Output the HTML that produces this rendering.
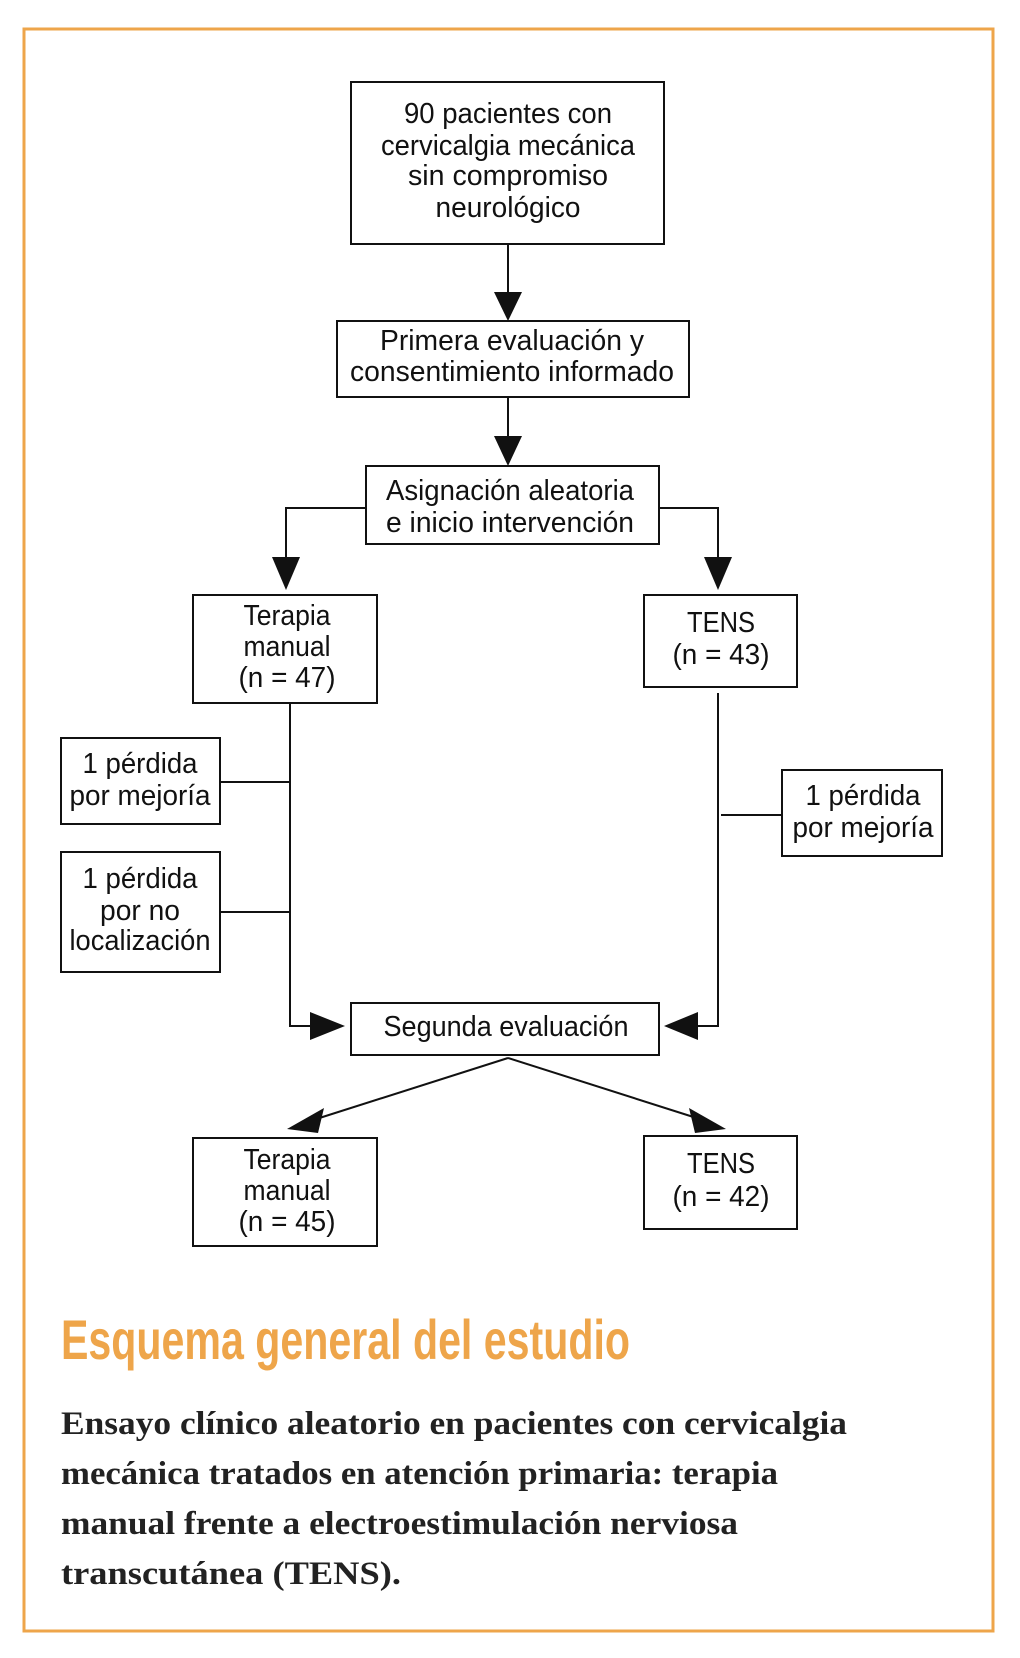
<!DOCTYPE html>
<html><head><meta charset="utf-8"><style>
html,body{margin:0;padding:0;background:#fff;}
svg{display:block;}
.t{font-family:"Liberation Sans",sans-serif;font-size:29px;fill:#111;text-anchor:middle;dominant-baseline:central;}
.b{fill:none;stroke:#111;stroke-width:2;}
.s{font-family:"Liberation Serif",serif;font-size:33px;font-weight:bold;fill:#222;}
</style></head><body>
<svg width="1020" height="1658" viewBox="0 0 1020 1658" xmlns="http://www.w3.org/2000/svg">
<rect x="24" y="29" width="969" height="1602" fill="none" stroke="#eea54a" stroke-width="3"/>
<g class="b">
<rect x="351" y="82" width="313" height="162"/>
<rect x="337" y="321" width="352" height="76"/>
<rect x="366" y="466" width="293" height="78"/>
<rect x="193" y="595" width="184" height="108"/>
<rect x="644" y="595" width="153" height="92"/>
<rect x="61" y="738" width="159" height="86"/>
<rect x="61" y="852" width="159" height="120"/>
<rect x="782" y="770" width="160" height="86"/>
<rect x="351" y="1003" width="308" height="52"/>
<rect x="193" y="1138" width="184" height="108"/>
<rect x="644" y="1136" width="153" height="93"/>
<path d="M508 244V296M508 397V440M366 508H286V560M659 508H718V560M290 703V1026H316M220 782H290M220 912H290M718 693V1026H692M721 815H782M508 1058L310 1121M508 1058L706 1121"/>
</g>
<g fill="#111">
<polygon points="494,292 522,292 508,321"/>
<polygon points="494,436 522,436 508,466"/>
<polygon points="272,557 300,557 286,590"/>
<polygon points="704,557 732,557 718,590"/>
<polygon points="310,1012 310,1040 345,1026"/>
<polygon points="698,1012 698,1040 664,1026"/>
<polygon points="287,1129 324,1108 318,1133"/>
<polygon points="726,1129 689,1108 695,1133"/>
</g>
<g class="t">
<text x="508" y="114" textLength="208" lengthAdjust="spacingAndGlyphs">90 pacientes con</text>
<text x="508" y="146" textLength="254" lengthAdjust="spacingAndGlyphs">cervicalgia mecánica</text>
<text x="508" y="176" textLength="200" lengthAdjust="spacingAndGlyphs">sin compromiso</text>
<text x="508" y="208" textLength="145" lengthAdjust="spacingAndGlyphs">neurológico</text>
<text x="512" y="341" textLength="264" lengthAdjust="spacingAndGlyphs">Primera evaluación  y</text>
<text x="512" y="372" textLength="324" lengthAdjust="spacingAndGlyphs">consentimiento informado</text>
<text x="510" y="491" textLength="248" lengthAdjust="spacingAndGlyphs">Asignación aleatoria</text>
<text x="510" y="523" textLength="248" lengthAdjust="spacingAndGlyphs">e inicio intervención</text>
<text x="287" y="616" textLength="87" lengthAdjust="spacingAndGlyphs">Terapia</text>
<text x="287" y="647" textLength="87" lengthAdjust="spacingAndGlyphs">manual</text>
<text x="287" y="678" textLength="97" lengthAdjust="spacingAndGlyphs">(n = 47)</text>
<text x="721" y="623" textLength="68" lengthAdjust="spacingAndGlyphs">TENS</text>
<text x="721" y="655" textLength="97" lengthAdjust="spacingAndGlyphs">(n = 43)</text>
<text x="140" y="764" textLength="115" lengthAdjust="spacingAndGlyphs">1 pérdida</text>
<text x="140" y="796" textLength="141" lengthAdjust="spacingAndGlyphs">por mejoría</text>
<text x="140" y="879" textLength="115" lengthAdjust="spacingAndGlyphs">1 pérdida</text>
<text x="140" y="911" textLength="80" lengthAdjust="spacingAndGlyphs">por no</text>
<text x="140" y="941" textLength="141" lengthAdjust="spacingAndGlyphs">localización</text>
<text x="863" y="796" textLength="115" lengthAdjust="spacingAndGlyphs">1 pérdida</text>
<text x="863" y="828" textLength="141" lengthAdjust="spacingAndGlyphs">por mejoría</text>
<text x="506" y="1027" textLength="245" lengthAdjust="spacingAndGlyphs">Segunda evaluación</text>
<text x="287" y="1160" textLength="87" lengthAdjust="spacingAndGlyphs">Terapia</text>
<text x="287" y="1191" textLength="87" lengthAdjust="spacingAndGlyphs">manual</text>
<text x="287" y="1222" textLength="97" lengthAdjust="spacingAndGlyphs">(n = 45)</text>
<text x="721" y="1164" textLength="68" lengthAdjust="spacingAndGlyphs">TENS</text>
<text x="721" y="1197" textLength="97" lengthAdjust="spacingAndGlyphs">(n = 42)</text>
</g>
<text x="61" y="1359" font-family="Liberation Sans, sans-serif" font-weight="bold" font-size="56" fill="#eea54a" textLength="569" lengthAdjust="spacingAndGlyphs">Esquema general del estudio</text>
<text class="s" x="61" y="1434" textLength="786" lengthAdjust="spacingAndGlyphs">Ensayo clínico aleatorio en pacientes con cervicalgia</text>
<text class="s" x="61" y="1484" textLength="717" lengthAdjust="spacingAndGlyphs">mecánica tratados en atención primaria: terapia</text>
<text class="s" x="61" y="1534" textLength="677" lengthAdjust="spacingAndGlyphs">manual frente a electroestimulación nerviosa</text>
<text class="s" x="61" y="1584" textLength="340" lengthAdjust="spacingAndGlyphs">transcutánea (TENS).</text>
</svg>
</body></html>
